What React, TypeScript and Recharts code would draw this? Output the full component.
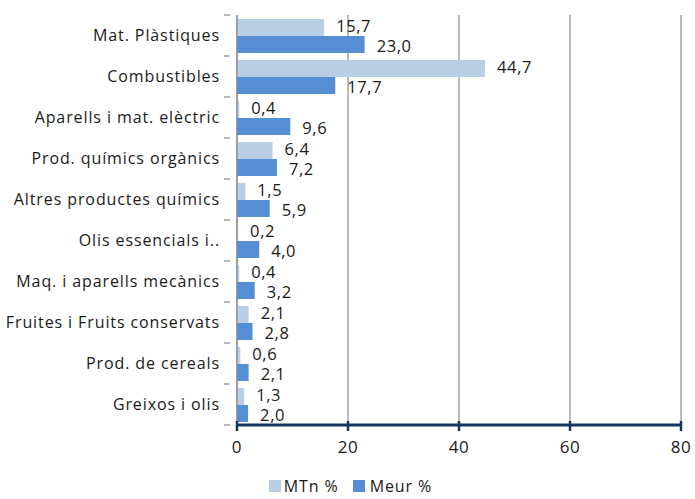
import React from 'react';
import { BarChart, Bar, XAxis, YAxis, CartesianGrid, LabelList, Legend } from 'recharts';

const categories = [
  'Mat. Plàstiques',
  'Combustibles',
  'Aparells i mat. elèctric',
  'Prod. químics orgànics',
  'Altres productes químics',
  'Olis essencials i..',
  'Maq. i aparells mecànics',
  'Fruites i Fruits conservats',
  'Prod. de cereals',
  'Greixos i olis',
];
const mtn = [15.7, 44.7, 0.4, 6.4, 1.5, 0.2, 0.4, 2.1, 0.6, 1.3];
const meur = [23.0, 17.7, 9.6, 7.2, 5.9, 4.0, 3.2, 2.8, 2.1, 2.0];
const xTicks = [0, 20, 40, 60, 80];

const data = categories.map((name, i) => ({ name, mtn: mtn[i], meur: meur[i] }));

const FONT = '"Open Sans", "Noto Sans", sans-serif';
const fmt = (v: any) => Number(v).toFixed(1).replace('.', ',');

const YTick = (props: any) => {
  const { x, y, payload, index } = props;
  const band = 41;
  return (
    <g>
      <text x={x - 9} y={y} dy={5} textAnchor="end" fontSize={16} letterSpacing={0.9} fill="#1a1a1a" fontFamily={FONT}>
        {payload.value}
      </text>
      <line x1={x - 5} x2={x + 1} y1={y - band / 2} y2={y - band / 2} stroke="#8a8a8a" strokeWidth={1.2} />
      {index === categories.length - 1 && (
        <line x1={x - 5} x2={x + 1} y1={y + band / 2} y2={y + band / 2} stroke="#8a8a8a" strokeWidth={1.2} />
      )}
    </g>
  );
};

const XTick = (props: any) => {
  const { x, y, payload } = props;
  return (
    <g>
      <line x1={x} x2={x} y1={y - 12} y2={y - 2} stroke="#17375e" strokeWidth={2.5} />
      <text x={x} y={y + 20} textAnchor="middle" fontSize={17} letterSpacing={0.6} fill="#1a1a1a" fontFamily={FONT}>
        {payload.value}
      </text>
    </g>
  );
};

const LegendContent = () => (
  <div style={{ display: 'flex', justifyContent: 'center', alignItems: 'center', fontFamily: FONT, fontSize: 16, letterSpacing: 0.9, color: '#1a1a1a', paddingLeft: 20, paddingTop: 21, lineHeight: '20px' }}>
    <span style={{ display: 'inline-block', width: 12, height: 12, background: '#b9cde5', marginRight: 3 }} />
    <span style={{ marginRight: 14 }}>MTn %</span>
    <span style={{ display: 'inline-block', width: 12, height: 12, background: '#558ed5', marginRight: 5 }} />
    <span>Meur %</span>
  </div>
);

export default function App() {
  return (
    <div style={{ position: 'absolute', left: 0, top: 0 }}>
      <BarChart
        width={695}
        height={499}
        data={data}
        layout="vertical"
        margin={{ top: 15, right: 14, bottom: 0, left: 0 }}
        barCategoryGap={4}
        barGap={0}
      >
        <CartesianGrid horizontal={false} vertical stroke="#8c8c8c" strokeWidth={1.2} />
        <XAxis
          type="number"
          domain={[0, 80]}
          ticks={xTicks}
          interval={0}
          axisLine={{ stroke: '#17375e', strokeWidth: 3 }}
          tickLine={false}
          tick={<XTick />}
          height={30}
        />
        <YAxis
          type="category"
          dataKey="name"
          width={237}
          axisLine={{ stroke: '#8a8a8a', strokeWidth: 1.2 }}
          tickLine={false}
          tick={<YTick />}
          interval={0}
        />
        <Legend verticalAlign="bottom" height={44} content={<LegendContent />} />
        <Bar dataKey="mtn" name="MTn %" fill="#b9cde5" isAnimationActive={false}>
          <LabelList dataKey="mtn" position="right" offset={12} formatter={fmt} fontSize={16.5} letterSpacing={0.6} dy={-1} fill="#1a1a1a" fontFamily={FONT} />
        </Bar>
        <Bar dataKey="meur" name="Meur %" fill="#558ed5" isAnimationActive={false}>
          <LabelList dataKey="meur" position="right" offset={12} formatter={fmt} fontSize={16.5} letterSpacing={0.6} dy={2} fill="#1a1a1a" fontFamily={FONT} />
        </Bar>
      </BarChart>
    </div>
  );
}
